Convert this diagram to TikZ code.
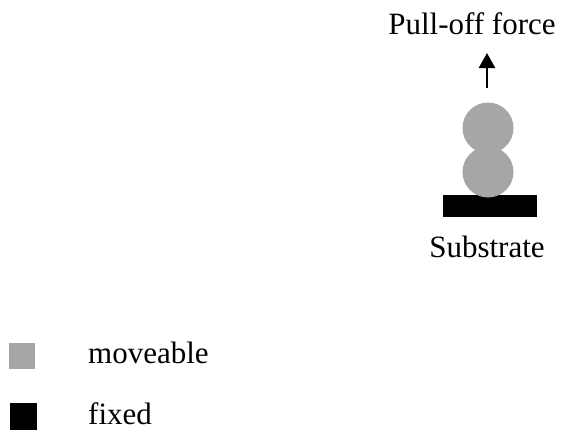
\documentclass[tikz,border=0pt]{standalone}
\usepackage{fontspec}
\setmainfont{Liberation Serif}
\usetikzlibrary{arrows.meta}
\definecolor{movgray}{HTML}{A6A6A6}
\tikzset{
  lbl/.style={inner sep=0pt, anchor=base, font=\fontsize{31}{36}\selectfont},
  leglbl/.style={inner sep=0pt, anchor=base west, text depth=0pt, font=\fontsize{31}{36}\selectfont},
  ball/.style={circle, fill=movgray, draw=none, minimum size=51pt, inner sep=0pt},
  fixedbox/.style={fill=black, draw=none, inner sep=0pt},
  forcearrow/.style={line width=2.6pt, -{Triangle[length=15pt,width=16pt]}}
}
\begin{document}
\begin{tikzpicture}[x=1pt,y=-1pt]
\useasboundingbox (0,0) rectangle (561,429);
% substrate
\node[fixedbox, minimum width=94pt, minimum height=22pt] (sub) at (490,206) {};
% balls
\node[ball] (b2) at (488,172) {};
\node[ball] (b1) at (488,128) {};
% arrow
\coordinate (arrS) at (487,88);
\coordinate (arrE) at (487,53);
\draw[forcearrow] (arrS) -- (arrE);
% labels
\node[lbl] (pull) at (472,34.5) {Pull-off force};
\node[lbl] (substr) at (487,257) {Substrate};
% legend
\node[fill=movgray, minimum size=26pt, inner sep=0pt] (legm) at (22,356) {};
\node[fixedbox, minimum size=27pt] (legf) at (23,416) {};
\node[leglbl] (tm) at (88,363) {moveable};
\node[leglbl] (tf) at (88,424) {fixed};
\end{tikzpicture}
\end{document}
